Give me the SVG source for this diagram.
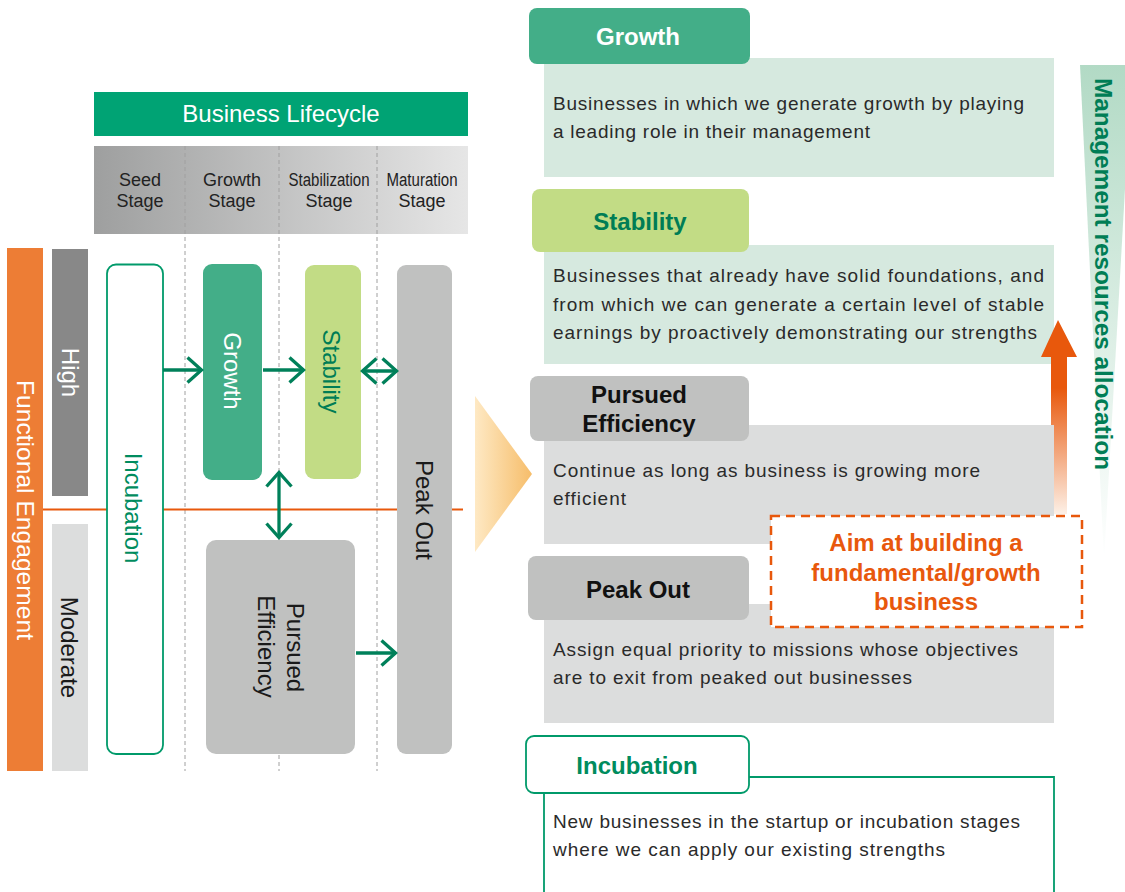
<svg xmlns="http://www.w3.org/2000/svg" width="1125" height="892" viewBox="0 0 1125 892">
  <defs>
    <linearGradient id="stageBand" x1="0" y1="0" x2="1" y2="0">
      <stop offset="0" stop-color="#9e9f9f"/>
      <stop offset="1" stop-color="#e6e6e6"/>
    </linearGradient>
    <linearGradient id="bigTri" x1="0" y1="0" x2="1" y2="0">
      <stop offset="0" stop-color="#fee9c4"/>
      <stop offset="1" stop-color="#f6bd6a"/>
    </linearGradient>
    <linearGradient id="upArrow" x1="0" y1="0" x2="0" y2="1">
      <stop offset="0" stop-color="#e8580c"/>
      <stop offset="0.35" stop-color="#e8580c"/>
      <stop offset="1" stop-color="#fdf0e6"/>
    </linearGradient>
    <linearGradient id="wedge" x1="0" y1="0" x2="0" y2="1">
      <stop offset="0" stop-color="#b2dac5"/>
      <stop offset="1" stop-color="#ffffff"/>
    </linearGradient>
    <marker id="chev" viewBox="0 0 18 28" refX="16" refY="14" markerWidth="18" markerHeight="28" markerUnits="userSpaceOnUse" orient="auto-start-reverse">
      <path d="M1.5,1.5 L15.5,14 L1.5,26.5" fill="none" stroke="#00805a" stroke-width="3.3"/>
    </marker>
    <style>
      .sans { font-family: "Liberation Sans", Arial, sans-serif; }
      .stage { font-family: "Liberation Sans", Arial, sans-serif; font-size: 18px; fill: #222; text-anchor: middle; }
      .vlab { font-family: "Liberation Sans", Arial, sans-serif; font-size: 24px; text-anchor: middle; }
      .head { font-family: "Liberation Sans", Arial, sans-serif; font-size: 24px; font-weight: bold; text-anchor: middle; }
      .body { font-family: "Liberation Sans", Arial, sans-serif; font-size: 19px; fill: #2a2a2a; }
      .guide { stroke: #a0a0a0; stroke-width: 1; stroke-dasharray: 4 3; }
      .conn { stroke: #00805a; stroke-width: 3.3; fill: none; }
    </style>
  </defs>

  <rect width="1125" height="892" fill="#ffffff"/>

  <!-- lifecycle header and stage band -->
  <g id="lifecycle-header">
    <rect x="94" y="92" width="374" height="44" fill="#00a374"/>
    <text x="281" y="122" class="sans" font-size="24" fill="#ffffff" text-anchor="middle">Business Lifecycle</text>
  </g>
  <g id="stages">
    <rect x="94" y="146" width="374" height="88" fill="url(#stageBand)"/>
    <text class="stage" x="140" y="186">Seed</text>
    <text class="stage" x="140" y="207">Stage</text>
    <text class="stage" x="232" y="186">Growth</text>
    <text class="stage" x="232" y="207">Stage</text>
    <text class="stage" x="329" y="186" textLength="81" lengthAdjust="spacingAndGlyphs">Stabilization</text>
    <text class="stage" x="329" y="207">Stage</text>
    <text class="stage" x="422" y="186" textLength="71" lengthAdjust="spacingAndGlyphs">Maturation</text>
    <text class="stage" x="422" y="207">Stage</text>
  </g>

  <!-- stage guide lines -->
  <g id="guides">
    <line class="guide" x1="185" y1="146" x2="185" y2="771"/>
    <line class="guide" x1="279" y1="146" x2="279" y2="771"/>
    <line class="guide" x1="377" y1="146" x2="377" y2="771"/>
  </g>

  <!-- engagement axis -->
  <g id="functional-engagement">
    <rect x="7" y="248" width="36" height="523" fill="#ed7d35"/>
    <text class="vlab" fill="#ffffff" transform="translate(17 510) rotate(90)" textLength="260" lengthAdjust="spacingAndGlyphs">Functional Engagement</text>
  </g>
  <g id="high">
    <rect x="52" y="249" width="36" height="247" fill="#888888"/>
    <text class="vlab" fill="#ffffff" transform="translate(62 372.5) rotate(90)">High</text>
  </g>
  <g id="moderate">
    <rect x="52" y="524" width="36" height="247" fill="#dcdddd"/>
    <text class="vlab" fill="#1a1a1a" transform="translate(61 647.5) rotate(90)">Moderate</text>
  </g>

  <!-- engagement divider -->
  <line x1="43" y1="509.5" x2="463" y2="509.5" stroke="#e8580c" stroke-width="2"/>

  <!-- lifecycle nodes -->
  <g id="node-incubation">
    <rect x="107" y="264.5" width="56" height="489.5" rx="9" fill="#ffffff" stroke="#009a6a" stroke-width="1.8"/>
    <text class="vlab" fill="#008c5e" transform="translate(125 508) rotate(90)">Incubation</text>
  </g>
  <g id="node-growth">
    <rect x="203" y="264" width="59" height="216" rx="9" fill="#43ae88"/>
    <text class="vlab" fill="#ffffff" transform="translate(224 371) rotate(90)">Growth</text>
  </g>
  <g id="node-stability">
    <rect x="305" y="265" width="56" height="214" rx="9" fill="#c2dc85"/>
    <text class="vlab" fill="#007d55" transform="translate(323 371.5) rotate(90)">Stability</text>
  </g>
  <g id="node-peak-out">
    <rect x="397" y="265" width="55" height="489" rx="9" fill="#c0c1c0"/>
    <text class="vlab" fill="#1a1a1a" transform="translate(416 510) rotate(90)">Peak Out</text>
  </g>
  <g id="node-pursued-efficiency">
    <rect x="206" y="540" width="149" height="214" rx="10" fill="#c0c1c0"/>
    <text class="vlab" fill="#1a1a1a" transform="translate(287 647.5) rotate(90)">Pursued</text>
    <text class="vlab" fill="#1a1a1a" transform="translate(258 646.5) rotate(90)">Efficiency</text>
  </g>

  <!-- connectors -->
  <g id="connectors">
    <line class="conn" x1="163" y1="370" x2="202" y2="370" marker-end="url(#chev)"/>
    <line class="conn" x1="263" y1="370" x2="304" y2="370" marker-end="url(#chev)"/>
    <line class="conn" x1="362" y1="371" x2="397" y2="371" marker-start="url(#chev)" marker-end="url(#chev)"/>
    <line class="conn" x1="279" y1="472" x2="279" y2="538" marker-start="url(#chev)" marker-end="url(#chev)"/>
    <line class="conn" x1="356" y1="653" x2="396" y2="653" marker-end="url(#chev)"/>
  </g>

  <!-- transition pointer -->
  <polygon id="pointer" points="475,396 532,474 475,552" fill="url(#bigTri)"/>

  <!-- allocation wedge -->
  <g id="allocation">
    <polygon points="1080,65 1132,65 1104,560" fill="url(#wedge)"/>
    <text class="sans" font-size="24" font-weight="bold" fill="#007d55" transform="translate(1095 78) rotate(90)" textLength="392" lengthAdjust="spacingAndGlyphs">Management resources allocation</text>
  </g>

  <!-- category: growth -->
  <g id="cat-growth">
    <rect x="544" y="58" width="510" height="119" fill="#d6e9df"/>
    <rect x="529" y="8" width="221" height="56" rx="8" fill="#43ae88"/>
    <text class="head" x="638" y="45" fill="#ffffff">Growth</text>
    <text class="body" x="553" y="110" textLength="471">Businesses in which we generate growth by playing</text>
    <text class="body" x="553" y="138" textLength="317">a leading role in their management</text>
  </g>

  <!-- category: stability -->
  <g id="cat-stability">
    <rect x="544" y="245" width="510" height="119" fill="#d6e9df"/>
    <rect x="532" y="189" width="217" height="63" rx="8" fill="#c2dc85"/>
    <text class="head" x="640" y="230" fill="#007d55">Stability</text>
    <text class="body" x="553" y="282" textLength="491">Businesses that already have solid foundations, and</text>
    <text class="body" x="553" y="311" textLength="491">from which we can generate a certain level of stable</text>
    <text class="body" x="553" y="339" textLength="484">earnings by proactively demonstrating our strengths</text>
  </g>

  <!-- growth push arrow -->
  <polygon id="push-arrow" points="1058,320 1077,357 1067,357 1067,514 1051,514 1051,357 1041,357" fill="url(#upArrow)"/>

  <!-- category: pursued efficiency -->
  <g id="cat-pursued">
    <rect x="544" y="425" width="510" height="119" fill="#dcdddd"/>
    <rect x="530" y="376" width="219" height="65" rx="8" fill="#c0c1c0"/>
    <text class="head" x="639" y="403" fill="#111111">Pursued</text>
    <text class="head" x="639" y="432" fill="#111111">Efficiency</text>
    <text class="body" x="553" y="477" textLength="427">Continue as long as business is growing more</text>
    <text class="body" x="553" y="505" textLength="73">efficient</text>
  </g>

  <!-- category: peak out -->
  <g id="cat-peak-out">
    <rect x="544" y="604" width="510" height="119" fill="#dcdddd"/>
    <rect x="528" y="556" width="221" height="64" rx="8" fill="#c0c1c0"/>
    <text class="head" x="638" y="598" fill="#111111">Peak Out</text>
    <text class="body" x="553" y="656" textLength="465">Assign equal priority to missions whose objectives</text>
    <text class="body" x="553" y="684" textLength="359">are to exit from peaked out businesses</text>
  </g>

  <!-- goal callout -->
  <g id="goal">
    <rect x="771" y="516" width="311" height="111" fill="#ffffff" stroke="#e8580c" stroke-width="2.5" stroke-dasharray="9 6"/>
    <text class="head" x="926" y="551" font-size="25" fill="#e8580c">Aim at building a</text>
    <text class="head" x="926" y="581" font-size="25" fill="#e8580c">fundamental/growth</text>
    <text class="head" x="926" y="610" font-size="25" fill="#e8580c">business</text>
  </g>

  <!-- category: incubation -->
  <g id="cat-incubation">
    <path d="M544,892 V777 H1054 V892" fill="#ffffff" stroke="#009a6a" stroke-width="1.8"/>
    <rect x="526" y="736" width="223" height="57" rx="8" fill="#ffffff" stroke="#009a6a" stroke-width="1.8"/>
    <text class="head" x="637" y="774" fill="#008c5e">Incubation</text>
    <text class="body" x="553" y="828" textLength="467">New businesses in the startup or incubation stages</text>
    <text class="body" x="553" y="856" textLength="392">where we can apply our existing strengths</text>
  </g>
</svg>
